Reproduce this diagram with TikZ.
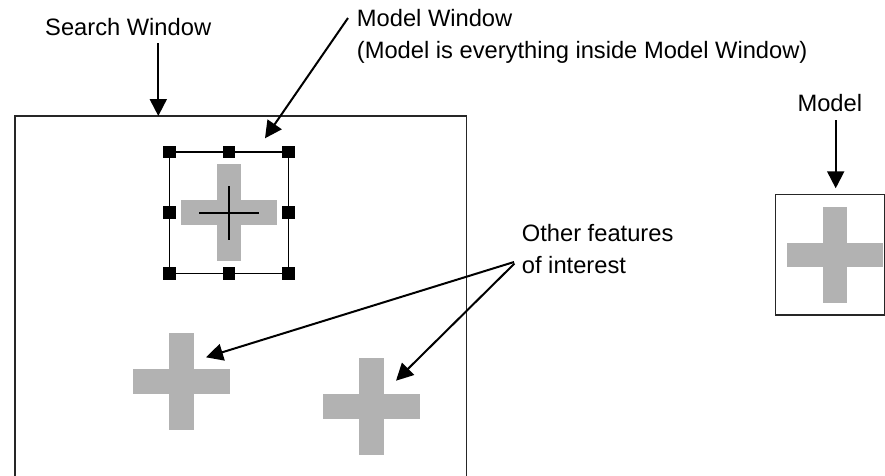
\documentclass[tikz,border=0pt]{standalone}
\usepackage{fontspec}
\setmainfont{Liberation Sans}
\usetikzlibrary{arrows.meta}
\definecolor{crossgray}{gray}{0.70}
\newcommand\grayplus[3]{%
  \fill[crossgray] (#2-12.4,#3-48.4) rectangle (#2+12.4,#3+48.4);
  \fill[crossgray] (#2-48.4,#3-12.2) rectangle (#2+48.4,#3+12.2);
  \coordinate (#1) at (#2,#3);}
\begin{document}
\begin{tikzpicture}[x=1pt,y=-1pt,
  lbl/.style={font=\fontsize{23.7}{31.6}\selectfont, inner sep=0pt, anchor=base west, align=left},
  arr/.style={line width=2pt, -{Triangle[length=17pt,width=17pt]}},
  frame/.style={draw=black!85, line width=1.3pt},
  handle/.style={fill=black, minimum size=12.5pt, inner sep=0pt, draw=none},
  hair/.style={line width=2pt, black}
]
\useasboundingbox (0,0) rectangle (885,475);

% search window
\draw[frame] (15,116) rectangle (466.5,495);
\coordinate (swtip) at (158.3,116);
\coordinate (swtail) at (158.3,43);

% crosses
\grayplus{mcross}{229}{212.5}
\grayplus{crossA}{181.5}{381.5}
\grayplus{crossB}{371.5}{406.5}
\grayplus{mdlcross}{835}{255}

% model window
\draw[line width=1.4pt, black] (169.3,152) rectangle (288.3,273.3);
\draw[hair] (199,212.7) -- (259,212.7);
\draw[hair] (229,186) -- (229,240);
\node[handle] (h1) at (169.3,152) {};
\node[handle] (h2) at (228.8,152) {};
\node[handle] (h3) at (288.3,152) {};
\node[handle] (h4) at (169.3,212.7) {};
\node[handle] (h5) at (288.3,212.7) {};
\node[handle] (h6) at (169.3,273.3) {};
\node[handle] (h7) at (228.8,273.3) {};
\node[handle] (h8) at (288.3,273.3) {};
\coordinate (mwtip) at (265,138.3);
\coordinate (mwtail) at (348,18);

% model box
\draw[frame] (775.7,194.3) rectangle (884.3,315);
\coordinate (mtip) at (835.7,188.3);
\coordinate (mtail) at (835.7,120);

% labels (base anchor of a two-line label is its last baseline)
\node[lbl] (sl) at (45,35) {Search Window};
\node[lbl] (ml) at (356.7,58.3) {Model Window\\(Model is everything inside Model Window)};
\node[lbl] (ol) at (521.7,273.3) {Other features\\of interest};
\node[lbl] (mdl) at (797.3,111.7) {Model};

% feature arrow anchors
\coordinate (otail) at (514,262);
\coordinate (otail2) at (514.5,263.5);
\coordinate (tipA) at (206,357.3);
\coordinate (tipB) at (396,380.7);

% arrows
\draw[arr] (swtail) -- (swtip);
\draw[arr] (mwtail) -- (mwtip);
\draw[arr] (mtail) -- (mtip);
\draw[arr] (otail) -- (tipA);
\draw[arr] (otail2) -- (tipB);
\end{tikzpicture}
\end{document}
